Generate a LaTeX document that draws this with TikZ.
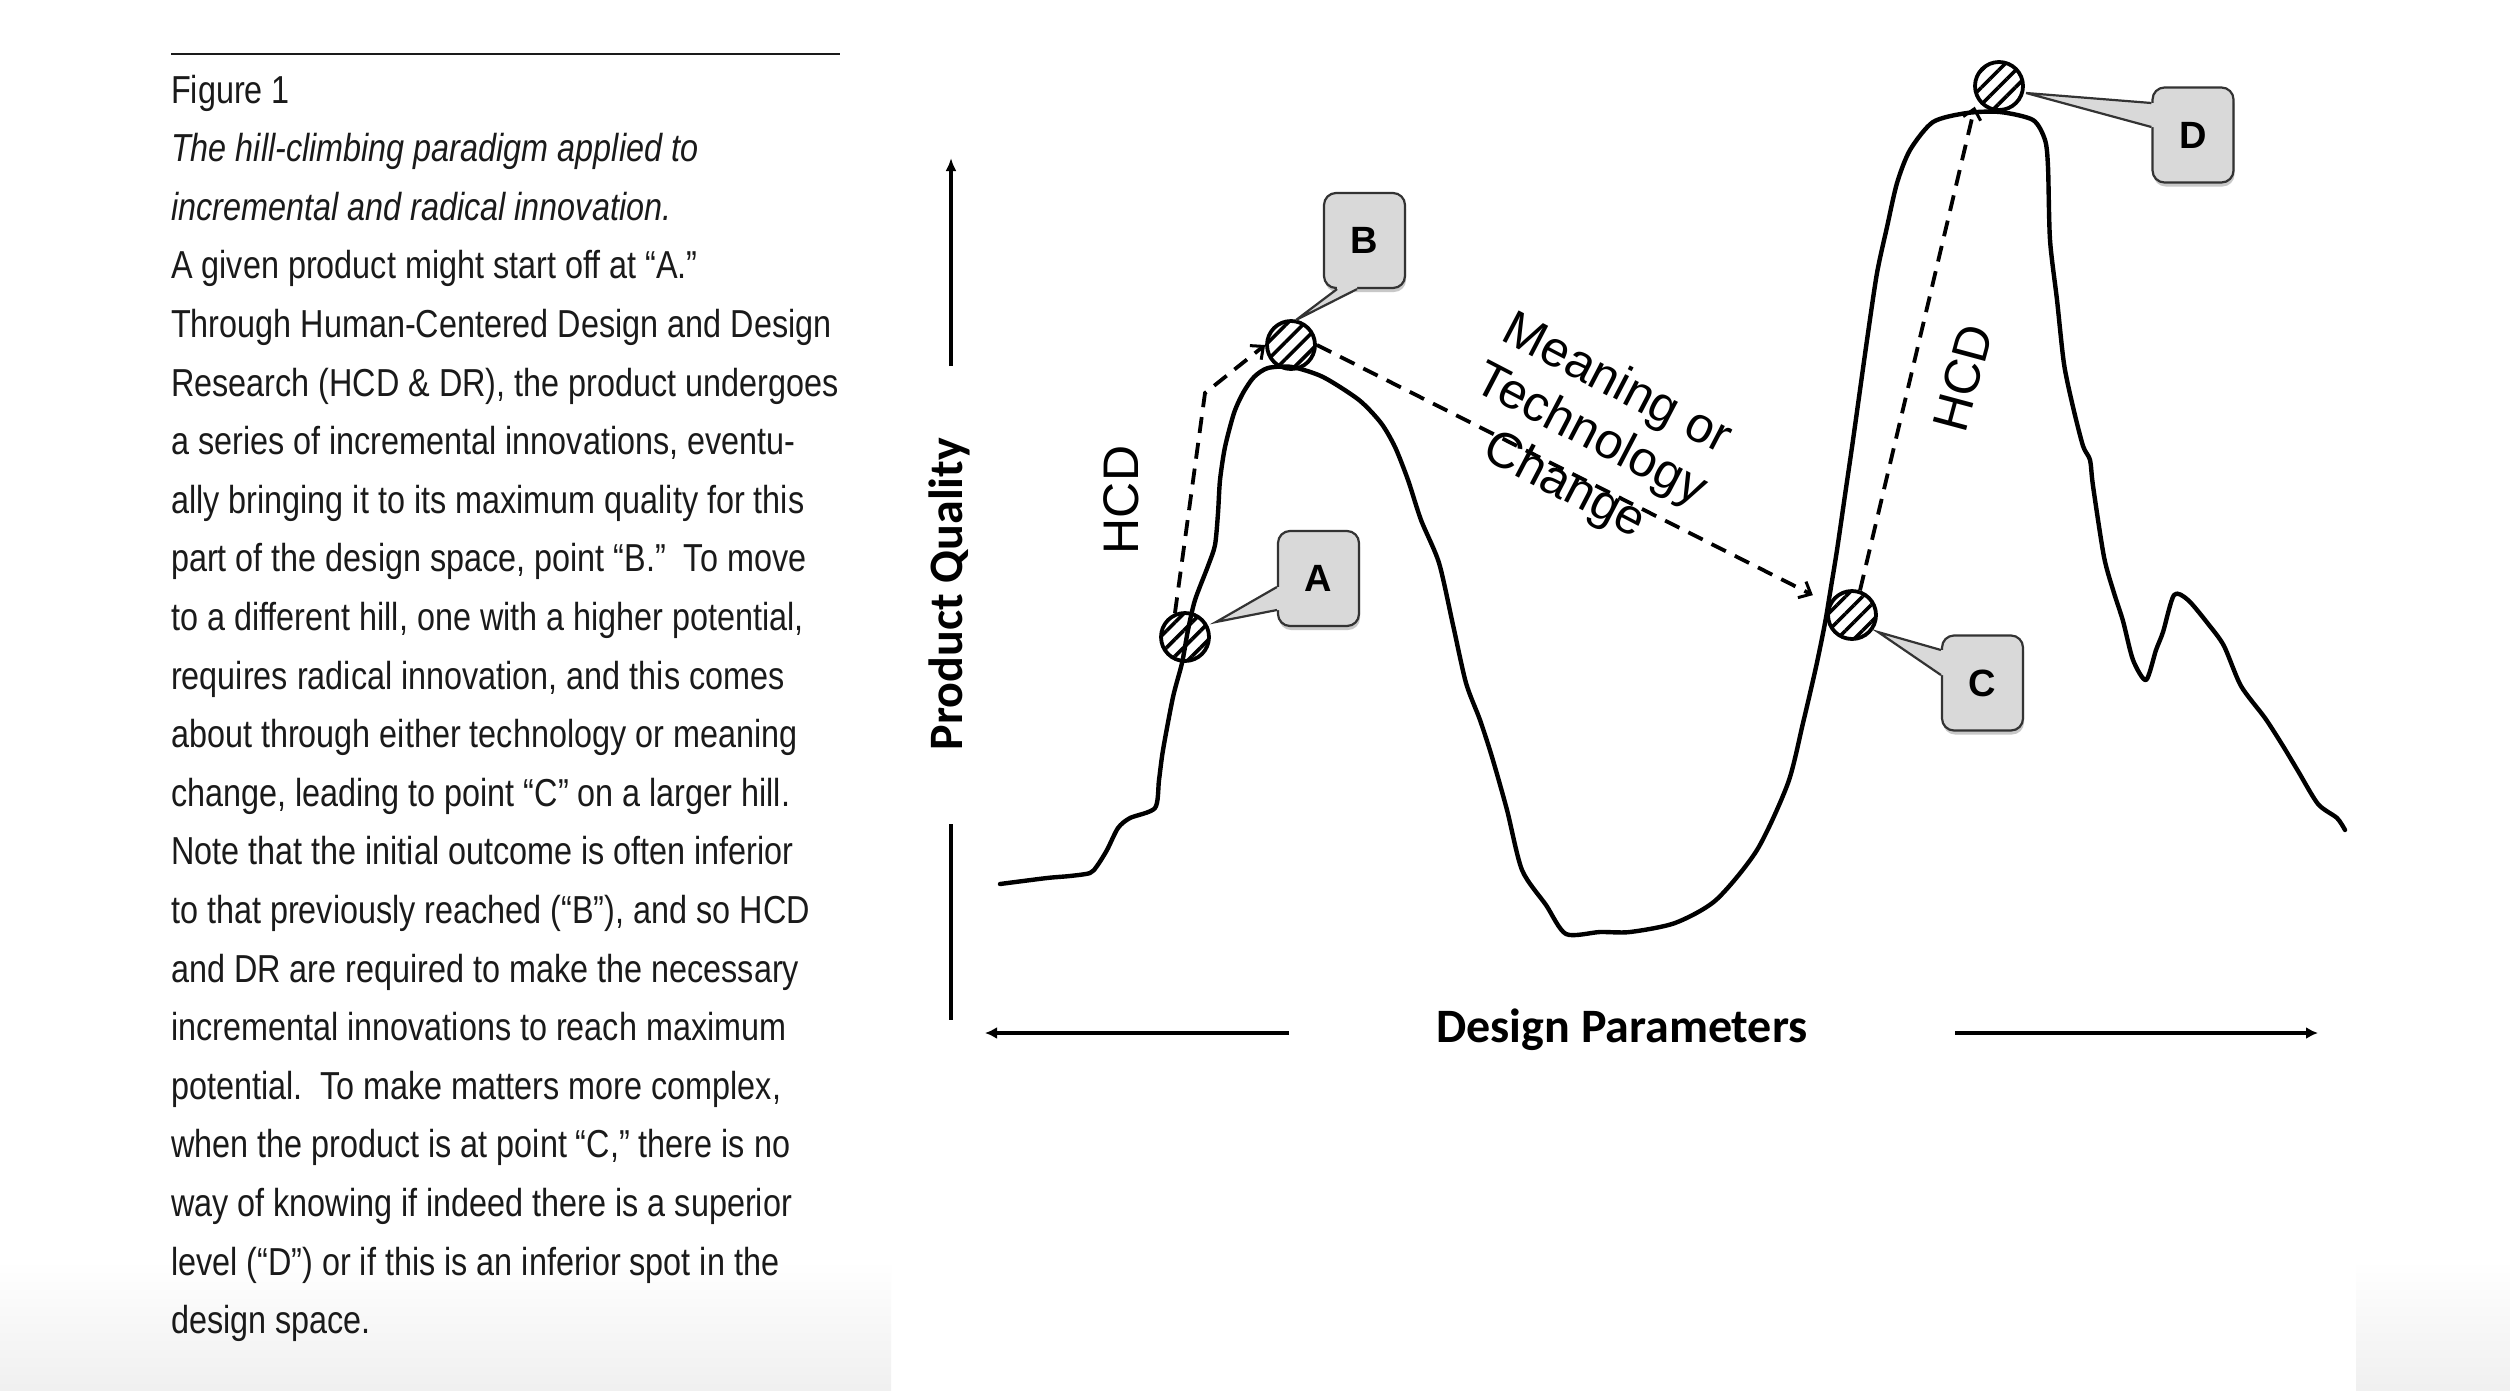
\documentclass[tikz,border=0pt]{standalone}
\usepackage{fontspec}
\setmainfont{Liberation Sans}
\newfontfamily\colfont{Liberation Sans}[FakeStretch=0.83]
\newfontfamily\calfont{Carlito}
\usetikzlibrary{arrows.meta,patterns.meta,calc,shadows}
\definecolor{boxgray}{HTML}{D9D9D9}
\definecolor{inkc}{HTML}{1A1A1A}
\begin{document}
\begin{tikzpicture}[x=1pt,y=-1pt,
  coltext/.style={font=\colfont\fontsize{39}{47}\selectfont, inner sep=0pt, anchor=base west, text=inkc},
  curveline/.style={line width=4.4pt, line join=round, line cap=round},
  dasharrow/.style={line width=3.8pt, dash pattern=on 16pt off 10pt, -{Straight Barb[length=10pt,width=18pt,line width=3pt]}},
  hatchdot/.style={circle, draw, line width=3.8pt, minimum size=48pt, inner sep=0pt, preaction={fill=white}, pattern={Lines[angle=45,distance=12pt,line width=3.6pt]}},
  callout/.style={draw=black!80, line width=2.2pt, fill=boxgray, rounded corners=12pt, minimum width=81pt, minimum height=95pt, inner sep=0pt, font=\bfseries\fontsize{38}{38}\selectfont, drop shadow={shadow xshift=1pt, shadow yshift=-4pt, opacity=0.3, fill=black!70}},
  wedgefill/.style={fill=boxgray},
  wedgeline/.style={draw=black!80, line width=2.2pt, line join=miter},
  axisline/.style={line width=3.6pt},
  axislabel/.style={font=\calfont\bfseries\fontsize{48}{48}\selectfont, inner sep=0pt},
  hcdlabel/.style={font=\fontsize{50}{57}\selectfont, inner sep=0pt, align=center}
]
\useasboundingbox (0,0) rectangle (2510,1390);
\fill[white] (0,0) rectangle (2510,1390);
\shade[top color=white, bottom color=black!6] (0,1260) rectangle (891,1390);
\shade[top color=white, bottom color=black!6] (2356,1260) rectangle (2510,1390);

% ---------- caption column ----------
\draw[line width=2.5pt, inkc] (171,54) -- (840,54);
\node[coltext] (t1)  at (171,103.0) {Figure 1};
\node[coltext] (t2)  at (171,161.6) {\itshape The hill-climbing paradigm applied to};
\node[coltext] (t3)  at (171,220.2) {\itshape incremental and radical innovation.};
\node[coltext] (t4)  at (171,278.8) {A given product might start off at “A.”};
\node[coltext] (t5)  at (171,337.4) {Through Human-Centered Design and Design};
\node[coltext] (t6)  at (171,396.0) {Research (HCD \& DR), the product undergoes};
\node[coltext] (t7)  at (171,454.6) {a series of incremental innovations, eventu-};
\node[coltext] (t8)  at (171,513.2) {ally bringing it to its maximum quality for this};
\node[coltext] (t9)  at (171,571.8) {part of the design space, point “B.”\ \ To move};
\node[coltext] (t10) at (171,630.4) {to a different hill, one with a higher potential,};
\node[coltext] (t11) at (171,689.0) {requires radical innovation, and this comes};
\node[coltext] (t12) at (171,747.6) {about through either technology or meaning};
\node[coltext] (t13) at (171,806.2) {change, leading to point “C” on a larger hill.};
\node[coltext] (t14) at (171,864.8) {Note that the initial outcome is often inferior};
\node[coltext] (t15) at (171,923.4) {to that previously reached (“B”), and so HCD};
\node[coltext] (t16) at (171,982.0) {and DR are required to make the necessary};
\node[coltext] (t17) at (171,1040.6) {incremental innovations to reach maximum};
\node[coltext] (t18) at (171,1099.2) {potential.\ \ To make matters more complex,};
\node[coltext] (t19) at (171,1157.8) {when the product is at point “C,” there is no};
\node[coltext] (t20) at (171,1216.4) {way of knowing if indeed there is a superior};
\node[coltext] (t21) at (171,1275.0) {level (“D”) or if this is an inferior spot in the};
\node[coltext] (t22) at (171,1333.6) {design space.};

% ---------- axes ----------
\node[axislabel, rotate=90] (pq) at (949,594) {Product Quality};
\node[axislabel, anchor=base] (dp) at (1622,1042) {Design Parameters};
\coordinate (yup1) at (951,366);
\coordinate (yup2) at (951,158);
\coordinate (ylo1) at (951,824);
\coordinate (ylo2) at (951,1020);
\coordinate (xl1) at (1289,1033);
\coordinate (xl2) at (985,1033);
\coordinate (xr1) at (1955,1033);
\coordinate (xr2) at (2318,1033);
\draw[axisline, -{Latex[length=13pt,width=11pt]}] (yup1) -- (yup2);
\draw[axisline] (ylo1) -- (ylo2);
\draw[axisline, line width=4.2pt, -{Latex[length=12pt,width=12pt]}] (xl1) -- (xl2);
\draw[axisline, line width=4.2pt, -{Latex[length=12pt,width=12pt]}] (xr1) -- (xr2);

% ---------- points ----------
\node[hatchdot] (A) at (1185,637) {};
\node[hatchdot] (B) at (1291,345) {};
\node[hatchdot] (C) at (1852,615) {};
\node[hatchdot] (D) at (1999,86) {};

% ---------- landscape curve ----------
\draw[curveline] plot[smooth, tension=0.45] coordinates {
 (1000,884) (1047,878) (1070,876) (1090,873) (1097,866) (1107,850) (1118,828)
 (1130,818) (1155,808) (1159,780) (1163,750) (1173,697) (1182,663) (1188,630)
 (1195,600) (1208,566) (1215,545) (1218,513) (1220,480) (1225,447) (1234,413)
 (1243,393) (1254,377) (1268,368) (1292,367) (1323,377) (1359,400) (1381,423)
 (1395,447) (1408,480) (1421,520) (1439,563) (1453,625) (1466,683) (1480,720)
 (1492,757) (1507,810) (1522,870) (1546,905) (1566,934) (1600,932) (1630,932)
 (1675,923) (1716,900) (1757,850) (1788,783) (1803,723) (1816,667) (1825,623)
 (1830,593) (1837,550) (1845,495) (1853,440) (1867,340) (1877,273) (1887,227)
 (1897,183) (1910,150) (1933,122) (1967,113) (2000,112) (2033,120) (2045,140)
 (2048,167) (2050,240) (2057,300) (2064,364) (2073,407) (2083,446) (2090,460)
 (2093,486) (2104,557) (2114,593) (2123,621) (2133,660) (2146,680) (2156,650)
 (2163,632) (2174,595) (2188,600) (2209,625) (2224,646) (2241,686) (2265,718)
 (2283,746) (2298,771) (2318,804) (2337,818) (2345,830)};

% ---------- dashed moves ----------
\coordinate (hcdbend) at (1205,393);
\draw[dasharrow] (A.113) -- (hcdbend) -- (B.west);
\draw[dasharrow, shorten >=18pt] (B.east) -- (C.153);
\draw[dasharrow, shorten >=8pt] (C.72) -- (D.210);

\node[hcdlabel, rotate=90] (hcd1) at (1121,500) {HCD};
\node[hcdlabel, rotate=75] (hcd2) at (1963,378) {HCD};
\node[hcdlabel, rotate=-27.5] (mtc) at (1590,436) {Meaning or\\Technology\\Change};

% ---------- callouts ----------
\node[callout] (Abox) at (1318.5,578.5) {A};
\node[callout] (Bbox) at (1364.5,240.5) {B};
\node[callout] (Cbox) at (1982.5,683) {C};
\node[callout] (Dbox) at (2193,135) {D};
\coordinate (Atip) at (1216,622);
\coordinate (Btip) at (1296,320);
\coordinate (Ctip) at (1878,632);
\coordinate (Dtip) at (2026,93);

% A wedge (left side)
\fill[wedgefill] ($(Abox.west)+(0,8.5)$) -- (Atip) -- ($(Abox.west)+(0,31.5)$) -- ($(Abox.west)+(7,31.5)$) -- ($(Abox.west)+(7,8.5)$) -- cycle;
\draw[wedgeline] ($(Abox.west)+(0,8.5)$) -- (Atip) -- ($(Abox.west)+(0,31.5)$);
% B wedge (bottom side)
\fill[wedgefill] ($(Bbox.south)+(-27.5,0)$) -- (Btip) -- ($(Bbox.south)+(-7.5,0)$) -- ($(Bbox.south)+(-7.5,-7)$) -- ($(Bbox.south)+(-27.5,-7)$) -- cycle;
\draw[wedgeline] ($(Bbox.south)+(-27.5,0)$) -- (Btip) -- ($(Bbox.south)+(-7.5,0)$);
% C wedge (left side)
\fill[wedgefill] ($(Cbox.west)+(0,-33)$) -- (Ctip) -- ($(Cbox.west)+(0,-8)$) -- ($(Cbox.west)+(7,-8)$) -- ($(Cbox.west)+(7,-33)$) -- cycle;
\draw[wedgeline] ($(Cbox.west)+(0,-33)$) -- (Ctip) -- ($(Cbox.west)+(0,-8)$);
% D wedge (left side)
\fill[wedgefill] ($(Dbox.west)+(0,-32)$) -- (Dtip) -- ($(Dbox.west)+(0,-8)$) -- ($(Dbox.west)+(7,-8)$) -- ($(Dbox.west)+(7,-32)$) -- cycle;
\draw[wedgeline] ($(Dbox.west)+(0,-32)$) -- (Dtip) -- ($(Dbox.west)+(0,-8)$);
\end{tikzpicture}
\end{document}
